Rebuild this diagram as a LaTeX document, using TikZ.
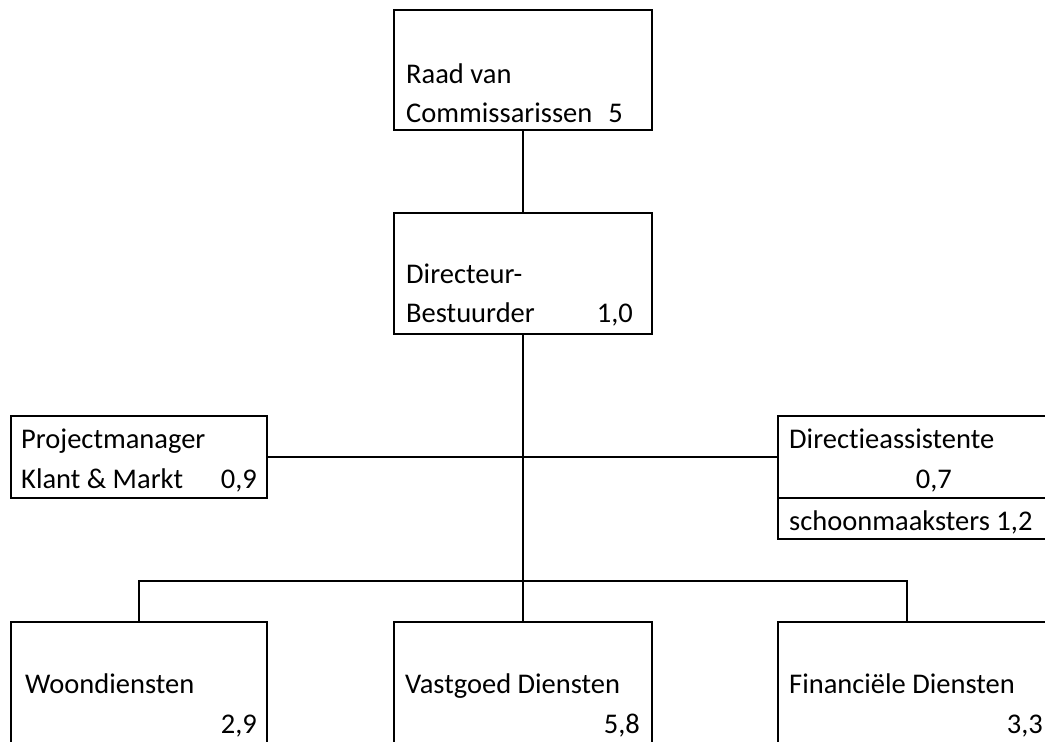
\documentclass[tikz,border=0pt]{standalone}
\usepackage{fontspec}
\setmainfont{Carlito}[Ligatures=NoCommon]
\usetikzlibrary{calc}
\begin{document}
\begin{tikzpicture}[x=1pt,y=-1pt,
  box/.style={draw, line width=2pt, rectangle, inner sep=0pt, outer sep=0pt, anchor=north west},
  lbl/.style={anchor=base west, inner sep=0pt, font=\fontsize{28.5}{40}\selectfont},
  num/.style={anchor=base east, inner sep=0pt, font=\fontsize{28.5}{40}\selectfont},
  link/.style={line width=2pt}]
\useasboundingbox[fill=white] (0,0) rectangle (1045,742);
\clip (0,0) rectangle (1045,742);
% boxes
\node[box, minimum width=258, minimum height=120] (raad) at (394,10) {};
\node[box, minimum width=258, minimum height=121] (dir) at (394,213) {};
\node[box, minimum width=256, minimum height=82] (pm) at (11,416) {};
\node[box, minimum width=290, minimum height=82] (dira) at (778,416) {};
\node[box, minimum width=290, minimum height=41] (schoon) at (778,498) {};
\node[box, minimum width=256, minimum height=140] (woon) at (11,622) {};
\node[box, minimum width=258, minimum height=140] (vast) at (394,622) {};
\node[box, minimum width=290, minimum height=140] (fin) at (778,622) {};
% texts
\node[lbl] (raadA) at (406,83) {Raad van};
\node[lbl] (raadB) at (406,122) {Commissarissen};
\node[num] (raadN) at (623,122) {5};
\node[lbl] (dirA) at (406,283) {Directeur-};
\node[lbl] (dirB) at (406,322) {Bestuurder};
\node[num] (dirN) at (633,322) {1,0};
\node[lbl] (pmA) at (21,448) {Projectmanager};
\node[lbl] (pmB) at (21,488) {Klant \& Markt};
\node[num] (pmN) at (257,488) {0,9};
\node[lbl] (diraA) at (789,448) {Directieassistente};
\node[num] (diraN) at (952,488) {0,7};
\node[lbl] (schoonA) at (789,530) {schoonmaaksters 1,2};
\node[lbl] (woonA) at (25,693) {Woondiensten};
\node[num] (woonN) at (257,733) {2,9};
\node[lbl] (vastA) at (405,693) {Vastgoed Diensten};
\node[num] (vastN) at (640,733) {5,8};
\node[lbl] (finA) at (789,693) {Financiële Diensten};
\node[num] (finN) at (1043,733) {3,3};
% connectors
\coordinate (bar) at (523,581);
\coordinate (finhook) at ($(fin.north west)+(129,0)$);
\draw[link] (raad.south) -- (dir.north);
\draw[link] (dir.south) -- (vast.north);
\draw[link] (pm.east) -- (dira.west);
\draw[link] (woon.north) |- (bar) -| (finhook);
\end{tikzpicture}
\end{document}
